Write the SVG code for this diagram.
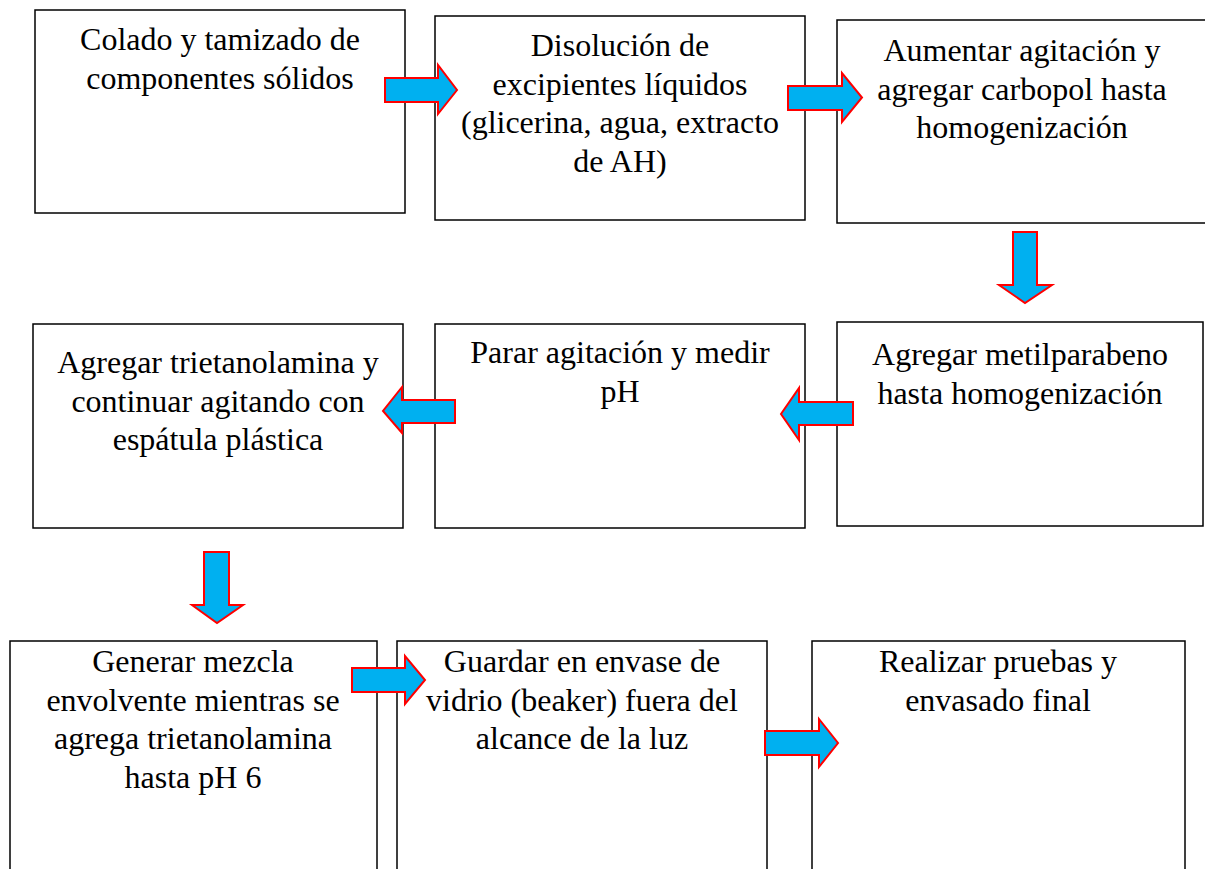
<svg xmlns="http://www.w3.org/2000/svg" width="1205" height="869" viewBox="0 0 1205 869">
<style>
.box{fill:#fff;stroke:#000;stroke-width:1.5}
.t{font-family:'Liberation Serif','Times New Roman',Tinos,'DejaVu Serif',serif;font-size:32px;fill:#000;text-anchor:middle}
.arr{fill:#00B0F0;stroke:#FF0000;stroke-width:2;stroke-linejoin:miter}
</style>
<rect width="1205" height="869" fill="#fff"/>
<g id="n1"><rect class="box" x="35" y="10" width="370" height="203"/>
<text class="t" x="220" y="50">Colado y tamizado de</text><text class="t" x="220" y="88.5">componentes sólidos</text></g>
<g id="n2"><rect class="box" x="435" y="16" width="370" height="204"/>
<text class="t" x="620" y="56">Disolución de</text><text class="t" x="620" y="94.5">excipientes líquidos</text><text class="t" x="620" y="133">(glicerina, agua, extracto</text><text class="t" x="620" y="171.5">de AH)</text></g>
<g id="n3"><rect class="box" x="837" y="20" width="372" height="203"/>
<text class="t" x="1022" y="61">Aumentar agitación y</text><text class="t" x="1022" y="99.5">agregar carbopol hasta</text><text class="t" x="1022" y="138">homogenización</text></g>
<g id="n4"><rect class="box" x="33" y="324" width="370" height="204"/>
<text class="t" x="218" y="373">Agregar trietanolamina y</text><text class="t" x="218" y="411.5">continuar agitando con</text><text class="t" x="218" y="450">espátula plástica</text></g>
<g id="n5"><rect class="box" x="435" y="324" width="370" height="204"/>
<text class="t" x="620" y="363">Parar agitación y medir</text><text class="t" x="620" y="401.5">pH</text></g>
<g id="n6"><rect class="box" x="837" y="322" width="366" height="204"/>
<text class="t" x="1020" y="365">Agregar metilparabeno</text><text class="t" x="1020" y="403.5">hasta homogenización</text></g>
<g id="n7"><rect class="box" x="10" y="641" width="367" height="240"/>
<text class="t" x="193" y="672">Generar mezcla</text><text class="t" x="193" y="710.5">envolvente mientras se</text><text class="t" x="193" y="749">agrega trietanolamina</text><text class="t" x="193" y="787.5">hasta pH 6</text></g>
<g id="n8"><rect class="box" x="397" y="641" width="370" height="240"/>
<text class="t" x="582" y="672">Guardar en envase de</text><text class="t" x="582" y="710.5">vidrio (beaker) fuera del</text><text class="t" x="582" y="749">alcance de la luz</text></g>
<g id="n9"><rect class="box" x="812" y="641" width="373" height="240"/>
<text class="t" x="998" y="672">Realizar pruebas y</text><text class="t" x="998" y="710.5">envasado final</text></g>
<g id="connectors">
<polygon class="arr" points="385,78 438,78 438,65 457,90 438,114 438,102 385,102"/>
<polygon class="arr" points="788,86 842,86 842,73 862,97.5 842,122 842,110 788,110"/>
<polygon class="arr" points="1013,232 1037,232 1037,285 1052,285 1025,303 999,285 1013,285"/>
<polygon class="arr" points="853,402 799,402 799,388 781,414 799,440 799,425 853,425"/>
<polygon class="arr" points="455,400 402,400 402,387 383,411 402,433 402,423 455,423"/>
<polygon class="arr" points="204,552 229,552 229,605 243,605 217,623 192,605 204,605"/>
<polygon class="arr" points="352,668 405,668 405,656 425,680 405,704 405,692 352,692"/>
<polygon class="arr" points="765,731 819,731 819,719 838,743 819,767 819,755 765,755"/>
</g>
</svg>
